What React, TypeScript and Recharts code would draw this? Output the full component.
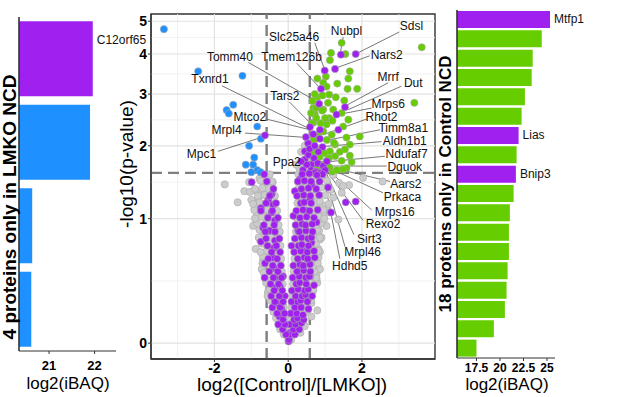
import React from 'react';
import {
  ScatterChart, Scatter, XAxis, YAxis, ReferenceLine, ReferenceArea,
  BarChart, Bar, Cell, LabelList,
} from 'recharts';

const FONT = '"Liberation Sans", Arial, Helvetica, sans-serif';
const PURPLE = '#A020F0';
const GREEN = '#66CD00';
const BLUE = '#1E90FF';
const GRAY = '#CCCCCC';
const AXIS = '#333333';

// ---------- left panel: proteins only in LMKO NCD ----------
const lmkoProteins = ['C12orf65', 'LMKO-2', 'LMKO-3', 'LMKO-4'];
const lmkoIbaq = [21.96, 21.9, 20.63, 20.61];
const lmkoMito = [true, false, false, false];
const lmkoShown = ['C12orf65'];
const lmkoDomain: [number, number] = [20.34, 22.47];

// ---------- right panel: proteins only in Control NCD ----------
const ctrlProteins = [
  'Mtfp1', 'Ctrl-2', 'Ctrl-3', 'Ctrl-4', 'Ctrl-5', 'Ctrl-6', 'Lias', 'Ctrl-8', 'Bnip3',
  'Ctrl-10', 'Ctrl-11', 'Ctrl-12', 'Ctrl-13', 'Ctrl-14', 'Ctrl-15', 'Ctrl-16', 'Ctrl-17', 'Ctrl-18',
];
const ctrlIbaq = [
  25.32, 24.44, 23.48, 23.37, 22.65, 22.3, 21.98, 21.77, 21.69,
  21.45, 21.05, 20.95, 20.95, 20.81, 20.7, 20.52, 19.35, 17.5,
];
const ctrlMito = [
  true, false, false, false, false, false, true, false, true,
  false, false, false, false, false, false, false, false, false,
];
const ctrlShown = ['Mtfp1', 'Lias', 'Bnip3'];
const ctrlDomain: [number, number] = [15.43, 25.85];

// ---------- volcano: [log2 FC, -log10 p] ----------
const grayPoints: [number, number][] = [
  [-1.72, 1.42], [-1.37, 1.19], [-1.19, 1.33], [-1.06, 1.45], [-1.04, 1.32], [-0.86, 1.33], [-0.81, 1.23],
  [-0.68, 1.29], [-0.86, 1.03], [-0.95, 0.92], [-0.77, 0.78], [-0.88, 0.69], [-0.68, 0.59], [-0.72, 0.51],
  [-0.63, 0.65], [-0.59, 1.09], [-0.5, 0.82], [-0.31, 0.88], [-0.27, 0.78], [-0.22, 0.59], [-0.36, 0.4],
  [-0.22, 0.33], [-0.14, 0.23], [-0.04, 0.14], [0.0, 0.02],
  [-0.75, 1.15], [-0.65, 1.4], [-0.55, 1.35], [-0.92, 1.1], [-0.6, 0.95], [-0.7, 0.86], [-0.45, 0.92],
  [-0.58, 0.72], [-0.4, 0.65], [-0.62, 0.47], [-0.5, 0.42], [-0.45, 0.55], [-0.3, 0.5], [-0.55, 0.33],
  [-0.4, 0.3], [-0.33, 0.22], [-0.25, 0.18], [-0.18, 0.12], [-0.1, 0.08], [-0.28, 0.42], [-0.35, 1.02],
  [-0.42, 1.45], [-0.78, 1.5], [-1.0, 1.22], [-0.52, 1.18], [-0.48, 0.7],
  [-0.12, 0.05], [-0.05, 0.08], [-0.22, 0.08], [-0.18, 0.11], [-0.07, 0.14], [-0.24, 0.14], [-0.33, 0.15],
  [-0.2, 0.18], [-0.4, 0.19], [-0.12, 0.22], [-0.33, 0.23], [-0.25, 0.26], [-0.48, 0.27], [-0.13, 0.3],
  [-0.35, 0.31], [-0.56, 0.3], [-0.27, 0.34], [-0.5, 0.35], [-0.15, 0.39], [-0.37, 0.38], [-0.6, 0.4],
  [-0.29, 0.44], [-0.52, 0.45], [-0.17, 0.49], [-0.39, 0.5], [-0.66, 0.48], [-0.31, 0.54], [-0.55, 0.55],
  [-0.7, 0.56], [-0.19, 0.6], [-0.42, 0.61], [-0.68, 0.62], [-0.33, 0.66], [-0.58, 0.67], [-0.75, 0.66],
  [-0.21, 0.72], [-0.44, 0.73], [-0.72, 0.74], [-0.35, 0.79], [-0.47, 0.8], [-0.8, 0.8], [-0.23, 0.86],
  [-0.49, 0.87], [-0.78, 0.88], [-0.26, 0.93], [-0.52, 0.94], [-0.85, 0.95], [-0.4, 1.01], [-0.72, 1.02],
  [-0.9, 1.0], [-0.3, 1.09], [-0.57, 1.1], [-0.46, 1.18], [-0.78, 1.19], [-0.95, 1.17], [-0.36, 1.27],
  [-0.64, 1.28], [-0.82, 1.27], [-0.54, 1.36], [-0.7, 1.37], [-0.9, 1.36], [-0.44, 1.46], [-0.75, 1.47],
  [-0.5, 1.56],
  [2.03, 1.51], [2.56, 1.46], [1.65, 1.41], [1.38, 1.44], [1.36, 0.99], [1.04, 1.11], [0.9, 0.96],
  [0.84, 0.87], [0.86, 0.78], [0.82, 0.69], [0.77, 0.59], [0.82, 0.52], [0.79, 0.4], [0.79, 0.2],
  [0.68, 0.34], [0.63, 0.25], [1.49, 1.4], [1.22, 1.55], [1.22, 1.25], [1.45, 1.31], [1.04, 0.92],
  [0.98, 1.07], [0.68, 0.82], [0.86, 0.66], [0.77, 0.47], [0.63, 0.16], [0.45, 0.1], [0.33, 0.06],
  [0.93, 1.15], [1.13, 1.07], [0.9, 0.8], [0.82, 0.61], [0.86, 0.51], [0.77, 0.43],
  [0.08, 0.02], [0.12, 0.05], [0.06, 0.08], [0.22, 0.08], [0.12, 0.11], [0.28, 0.11], [0.08, 0.14],
  [0.33, 0.14], [0.15, 0.18], [0.31, 0.18], [0.5, 0.19], [0.1, 0.22], [0.27, 0.22], [0.44, 0.23],
  [0.17, 0.26], [0.43, 0.26], [0.62, 0.27], [0.12, 0.3], [0.29, 0.3], [0.56, 0.31], [0.19, 0.34],
  [0.36, 0.34], [0.68, 0.35], [0.13, 0.39], [0.4, 0.39], [0.58, 0.4], [0.21, 0.44], [0.39, 0.44],
  [0.66, 0.45], [0.76, 0.44], [0.15, 0.49], [0.33, 0.49], [0.51, 0.5], [0.71, 0.49], [0.23, 0.54],
  [0.5, 0.55], [0.68, 0.54], [0.8, 0.56], [0.17, 0.6], [0.35, 0.61], [0.62, 0.6], [0.25, 0.66],
  [0.43, 0.67], [0.61, 0.66], [0.82, 0.67], [0.19, 0.72], [0.46, 0.73], [0.64, 0.72], [0.75, 0.74],
  [0.27, 0.79], [0.45, 0.8], [0.74, 0.79], [0.86, 0.8], [0.21, 0.86], [0.39, 0.87], [0.57, 0.86],
  [0.78, 0.88], [0.29, 0.93], [0.56, 0.94], [0.76, 0.93], [0.9, 0.95], [0.23, 1.01], [0.41, 1.02],
  [0.6, 1.01], [0.82, 1.03], [0.98, 1.0], [0.31, 1.09], [0.49, 1.1], [0.68, 1.09], [0.95, 1.1],
  [0.25, 1.18], [0.52, 1.19], [0.73, 1.18], [0.86, 1.2], [1.1, 1.17], [0.33, 1.27], [0.51, 1.28],
  [0.7, 1.27], [1.0, 1.28], [0.27, 1.36], [0.45, 1.37], [0.65, 1.36], [0.9, 1.38], [1.15, 1.35],
  [0.35, 1.46], [0.53, 1.47], [0.72, 1.46], [1.05, 1.47], [0.28, 1.56], [0.48, 1.57], [0.66, 1.55],
  [0.95, 1.56],
  [0.3, 1.65], [0.4, 1.72], [0.5, 1.8], [0.35, 1.9], [0.45, 2.0], [0.52, 2.12], [0.22, 1.7],
];

const bluePoints: [number, number][] = [
  [-3.37, 4.74], [-2.44, 3.54], [-1.24, 3.43], [-1.49, 2.77], [-1.67, 2.66], [-1.61, 2.59], [-0.84, 2.34],
  [-0.74, 2.12], [-1.06, 2.0], [-0.92, 1.81], [-1.15, 1.7], [-0.95, 1.7], [-0.84, 1.62], [-1.0, 1.59],
  [-0.75, 1.59],
];

const greenPoints: [number, number][] = [
  [1.45, 4.32], [3.62, 4.19], [1.16, 4.03], [1.55, 4.0], [1.13, 3.83], [1.67, 3.54], [1.63, 3.36],
  [0.79, 3.36], [1.02, 3.41], [0.95, 3.26], [1.33, 3.24], [1.04, 3.17], [1.61, 3.12], [1.87, 3.12],
  [0.79, 2.93], [0.93, 2.97], [1.11, 2.99], [1.29, 2.93], [1.52, 2.86], [3.42, 2.81], [1.08, 2.81],
  [0.68, 2.7], [0.95, 2.67], [1.22, 2.67], [1.45, 2.6], [0.72, 2.58], [1.11, 2.5], [1.63, 2.47],
  [0.68, 2.41], [1.04, 2.38], [1.49, 2.34], [1.94, 2.16], [1.18, 2.19], [1.58, 2.14], [0.68, 2.16],
  [1.27, 2.02], [1.67, 2.02], [1.13, 1.91], [1.54, 1.94], [1.67, 1.84], [1.27, 1.83], [1.04, 1.76],
  [1.45, 1.76], [1.58, 1.65], [1.72, 1.74], [1.48, 1.63], [1.2, 1.6],
  [0.62, 1.68], [0.7, 1.75], [0.78, 1.64], [0.9, 1.7], [1.12, 1.66], [0.66, 1.88], [0.74, 1.95],
  [0.85, 1.82], [0.98, 1.88], [1.1, 1.8], [0.62, 2.05], [0.7, 2.1], [0.8, 2.18], [0.95, 2.25],
  [1.05, 2.1], [0.64, 2.4], [0.76, 2.5], [0.88, 2.4], [0.62, 2.6], [0.75, 2.7], [0.92, 2.65],
  [0.66, 2.85], [0.72, 3.0], [1.0, 2.5], [1.2, 2.45], [1.24, 2.05], [1.4, 1.9], [1.32, 1.62],
];

const purplePoints: [number, number][] = [
  [1.43, 3.98], [1.83, 4.0], [1.27, 3.6], [0.99, 3.56], [0.89, 3.12], [0.84, 2.79], [1.54, 2.72],
  [1.31, 2.57], [0.59, 2.33], [0.86, 2.28], [1.36, 2.28], [0.86, 2.12], [0.54, 2.04], [0.93, 1.98],
  [0.45, 1.91], [0.45, 1.78], [0.63, 1.7], [-0.63, 2.18],
  [0.55, 1.85], [0.7, 1.8], [0.8, 1.72], [0.95, 1.68], [0.62, 1.62], [0.75, 1.6], [0.88, 1.58],
  [1.0, 1.62], [0.5, 1.7], [0.4, 1.62], [0.35, 1.75], [0.58, 1.95], [0.72, 2.0], [0.82, 1.9],
  [0.68, 2.2], [0.48, 2.15], [1.05, 1.75],
  [1.56, 1.19], [1.83, 1.2], [1.16, 1.07], [1.08, 1.38], [0.93, 1.56], [0.72, 1.58], [0.63, 1.42],
  [0.59, 1.22], [0.77, 0.96], [0.5, 1.09], [0.63, 0.75], [0.41, 0.67], [0.54, 0.59], [0.36, 0.51],
  [0.59, 0.45], [0.27, 0.4], [0.45, 0.34], [0.54, 0.28], [0.32, 0.23], [0.18, 0.17], [0.27, 0.12],
  [0.05, 0.06], [0.01, 0.01], [0.18, 1.33], [0.32, 1.49], [0.14, 1.03], [0.27, 0.87], [0.09, 0.72],
  [0.02, 0.02], [0.04, 0.05], [0.18, 0.05], [0.14, 0.08], [0.3, 0.08], [0.05, 0.11], [0.2, 0.11],
  [0.36, 0.12], [0.16, 0.14], [0.25, 0.15], [0.42, 0.14], [0.07, 0.18], [0.23, 0.18], [0.4, 0.17],
  [0.18, 0.22], [0.35, 0.22], [0.55, 0.21], [0.09, 0.26], [0.26, 0.26], [0.34, 0.27], [0.52, 0.26],
  [0.2, 0.3], [0.38, 0.3], [0.47, 0.31], [0.65, 0.3], [0.1, 0.34], [0.27, 0.35], [0.45, 0.34],
  [0.54, 0.35], [0.22, 0.39], [0.31, 0.4], [0.49, 0.39], [0.7, 0.38], [0.12, 0.44], [0.3, 0.45],
  [0.48, 0.44], [0.57, 0.45], [0.24, 0.49], [0.42, 0.5], [0.6, 0.49], [0.14, 0.54], [0.32, 0.55],
  [0.41, 0.54], [0.59, 0.55], [0.26, 0.6], [0.44, 0.61], [0.53, 0.6], [0.72, 0.61], [0.16, 0.66],
  [0.34, 0.67], [0.52, 0.66], [0.7, 0.67], [0.28, 0.72], [0.37, 0.73], [0.55, 0.72], [0.18, 0.79],
  [0.36, 0.8], [0.54, 0.79], [0.63, 0.8], [0.3, 0.86], [0.48, 0.87], [0.66, 0.86], [0.2, 0.93],
  [0.38, 0.94], [0.47, 0.93], [0.65, 0.94], [0.32, 1.01], [0.5, 1.02], [0.7, 1.01], [0.22, 1.09],
  [0.4, 1.1], [0.58, 1.09], [0.8, 1.1], [0.34, 1.18], [0.43, 1.19], [0.62, 1.18], [0.24, 1.27],
  [0.42, 1.28], [0.6, 1.27], [0.84, 1.28], [0.36, 1.36], [0.55, 1.37], [0.76, 1.36], [0.26, 1.46],
  [0.44, 1.47], [0.62, 1.46], [0.85, 1.46], [0.38, 1.56], [0.57, 1.57], [0.78, 1.55],
  [-0.99, 1.45], [-0.45, 1.29], [-0.54, 1.22], [-0.41, 1.16], [-0.45, 1.07], [-0.74, 1.12], [-0.36, 0.98],
  [-0.68, 0.9], [-0.51, 0.87], [-0.36, 0.77], [-0.74, 0.76], [-0.39, 0.7], [-0.41, 0.61], [-0.63, 0.56],
  [-0.39, 0.52], [-0.36, 0.44], [-0.14, 0.45], [-0.22, 0.37], [-0.36, 0.36], [-0.09, 0.3], [-0.31, 0.25],
  [-0.18, 0.21], [-0.24, 0.16], [-0.14, 0.1],
  [-0.06, 0.05], [-0.15, 0.08], [-0.09, 0.11], [-0.27, 0.11], [-0.14, 0.14], [-0.1, 0.18], [-0.3, 0.18],
  [-0.22, 0.22], [-0.43, 0.22], [-0.14, 0.26], [-0.36, 0.26], [-0.24, 0.3], [-0.46, 0.3], [-0.16, 0.34],
  [-0.38, 0.34], [-0.26, 0.39], [-0.48, 0.39], [-0.18, 0.44], [-0.4, 0.44], [-0.64, 0.44], [-0.28, 0.49],
  [-0.51, 0.49], [-0.2, 0.54], [-0.42, 0.54], [-0.3, 0.6], [-0.54, 0.6], [-0.22, 0.66], [-0.45, 0.66],
  [-0.32, 0.72], [-0.56, 0.72], [-0.24, 0.79], [-0.6, 0.79], [-0.36, 0.86], [-0.62, 0.86], [-0.38, 0.93],
  [-0.66, 0.93], [-0.28, 1.01], [-0.55, 1.01], [-0.43, 1.09], [-0.74, 1.09], [-0.33, 1.18], [-0.6, 1.18],
  [-0.5, 1.27], [-0.4, 1.36], [-0.58, 1.46], [-0.65, 1.56],
];

// gene labels: name, text (x, y), leader start (x, y), leader end (x, y) in data units
const geneLabels: [string, number, number, number, number, number, number][] = [
  ['Slc25a46', 0.16, 4.5, 0.72, 4.32, 0.99, 3.58],
  ['Tomm40', -1.58, 3.93, -1.08, 3.77, 0.64, 2.9],
  ['Tmem126b', 0.09, 3.93, 0.23, 3.75, 0.86, 3.14],
  ['Txnrd1', -2.12, 3.34, -1.8, 3.19, 0.54, 2.31],
  ['Tars2', -0.09, 2.95, 0.03, 2.83, 0.59, 2.41],
  ['Mtco2', -1.04, 2.52, -0.59, 2.48, 0.59, 2.28],
  ['Mrpl4', -1.67, 2.27, -1.17, 2.22, 0.53, 2.14],
  ['Mpc1', -2.35, 1.86, -1.9, 1.91, -0.79, 2.13],
  ['Ppa2', -0.04, 1.74, 0.27, 1.77, 0.53, 1.83],
  ['Nubpl', 1.58, 4.69, 1.49, 4.5, 1.42, 4.07],
  ['Sdsl', 3.34, 4.83, 3.01, 4.65, 1.85, 4.01],
  ['Nars2', 2.67, 3.98, 2.21, 3.95, 1.31, 3.63],
  ['Mrrf', 2.71, 3.4, 2.71, 3.26, 1.54, 2.74],
  ['Dut', 3.39, 3.26, 3.07, 3.18, 1.63, 2.67],
  ['Mrps6', 2.71, 2.79, 2.26, 2.7, 1.36, 2.57],
  ['Rhot2', 2.53, 2.52, 2.12, 2.48, 0.95, 2.19],
  ['Timm8a1', 3.12, 2.31, 2.49, 2.28, 0.95, 2.08],
  ['Aldh1b1', 3.16, 2.08, 2.53, 2.07, 0.99, 1.99],
  ['Ndufaf7', 3.21, 1.86, 2.62, 1.83, 0.99, 1.74],
  ['Dguok', 3.16, 1.66, 2.67, 1.68, 0.99, 1.68],
  ['Aars2', 3.19, 1.42, 2.76, 1.46, 1.22, 1.65],
  ['Prkaca', 3.1, 1.25, 2.57, 1.31, 1.18, 1.63],
  ['Mrps16', 2.89, 1.07, 2.26, 1.1, 1.13, 1.6],
  ['Rexo2', 2.57, 0.94, 2.03, 0.98, 1.08, 1.58],
  ['Sirt3', 2.2, 0.79, 1.78, 0.83, 1.04, 1.57],
  ['Mrpl46', 2.02, 0.66, 1.54, 0.71, 0.99, 1.56],
  ['Hdhd5', 1.67, 0.54, 1.4, 0.6, 0.95, 1.56],
];

const yTickValues = [0, 1, 2, 3, 4, 5];
const xTickValues = [-2, 0, 2];
const xMinorGrid = [-3, -1, 1, 3];
const fcCutoff = 0.585;
const pCutoff = 1.58;

// y axis uses a log(1 + y) transform
const T = (v: number) => Math.log1p(v);
const toPts = (arr: [number, number][]) => arr.map(([x, y]) => ({ x, t: T(y) }));

const xDomain: [number, number] = [-3.72, 3.98];
const tDomain: [number, number] = [-0.088, 1.832];

const dot = (fill: string) => (p: any) => (
  <circle cx={p.cx} cy={p.cy} r={3.6} fill={fill} stroke="#a9a9a9" strokeWidth={0.6} />
);

const tickStyle = (size: number) => ({ fontSize: size, fontWeight: 700, fill: '#000', fontFamily: FONT });

const lmkoData = lmkoProteins.map((name, i) => ({
  name, ibaq: lmkoIbaq[i], mito: lmkoMito[i], label: lmkoShown.includes(name) ? name : '',
}));
const ctrlData = ctrlProteins.map((name, i) => ({
  name, ibaq: ctrlIbaq[i], mito: ctrlMito[i], label: ctrlShown.includes(name) ? name : '',
}));

const yTicksT = yTickValues.map(T);
const yMinorT = yTicksT.slice(0, -1).map((t, i) => (t + yTicksT[i + 1]) / 2);

const labelPts = geneLabels.map(([gene, tx, ty]) => ({ x: tx, t: T(ty), gene }));

const barLabel = (dy: number) => (props: any) => {
  const { x, y, width, height, value } = props;
  if (!value) return null;
  return (
    <text x={x + width + 4} y={y + height / 2 + dy} dominantBaseline="central" fontSize={12}
      fontFamily={FONT} fill="#111">{value}</text>
  );
};

const Title = (props: { x: number; y: number; size: number; bold?: boolean; rotate?: boolean; text: string }) => (
  <text x={props.x} y={props.y} transform={props.rotate ? `rotate(-90 ${props.x} ${props.y})` : undefined}
    textAnchor="middle" fontSize={props.size} fontWeight={props.bold ? 700 : 400}
    fontFamily={FONT} fill="#000">{props.text}</text>
);

export default function App() {
  return (
    <div style={{ position: 'absolute', left: 0, top: 0, width: 630, height: 397, background: '#fff', fontFamily: FONT }}>
      {/* left panel */}
      <div style={{ position: 'absolute', left: 0, top: 0 }}>
        <BarChart width={630} height={397} data={lmkoData} layout="vertical"
          margin={{ top: 17, right: 514, bottom: 16, left: 9 }} barCategoryGap="5%">
          <XAxis type="number" dataKey="ibaq" domain={lmkoDomain} allowDataOverflow ticks={[21, 22]}
            interval={0} height={30} tickSize={3} tickMargin={7} tick={tickStyle(13)}
            axisLine={{ stroke: AXIS }} tickLine={{ stroke: AXIS }}
            label={{ content: () => <Title x={68} y={389} size={17} text="log2(iBAQ)" /> }} />
          <YAxis type="category" dataKey="name" width={10} tick={false} tickSize={3}
            axisLine={{ stroke: AXIS }} tickLine={{ stroke: AXIS }}
            label={{ content: () => <Title x={16} y={207} size={19} bold rotate text="4 proteins only in LMKO NCD" /> }} />
          <Bar dataKey="ibaq" isAnimationActive={false}>
            {lmkoData.map((d) => <Cell key={d.name} fill={d.mito ? PURPLE : BLUE} />)}
            <LabelList dataKey="label" content={barLabel(-19)} />
          </Bar>
          <ReferenceLine x={lmkoDomain[0]} stroke={AXIS} strokeWidth={1.2} ifOverflow="visible" />
        </BarChart>
      </div>

      {/* volcano */}
      <div style={{ position: 'absolute', left: 0, top: 0 }}>
        <ScatterChart width={630} height={397} margin={{ top: 14, right: 195, bottom: 8, left: 121 }}>
          <XAxis type="number" dataKey="x" domain={xDomain} allowDataOverflow ticks={xTickValues}
            interval={0} height={30} tickSize={3} tickMargin={1} tick={tickStyle(14)}
            axisLine={{ stroke: AXIS, strokeWidth: 1.3 }} tickLine={{ stroke: AXIS }}
            label={{ content: () => <Title x={292} y={391} size={19} text="log2([Control]/[LMKO])" /> }} />
          <YAxis type="number" dataKey="t" domain={tDomain} allowDataOverflow ticks={yTicksT}
            interval={0} width={30} tickSize={3} tickMargin={1} tick={tickStyle(14)}
            tickFormatter={(v: number) => String(Math.round(Math.expm1(v)))}
            axisLine={{ stroke: AXIS, strokeWidth: 1.3 }} tickLine={{ stroke: AXIS }}
            label={{ content: () => <Title x={133} y={164} size={19} rotate text="-log10(p-value)" /> }} />
          {xMinorGrid.map((v) => (
            <ReferenceLine key={'xm' + v} x={v} stroke="#efefef" strokeWidth={0.9} />
          ))}
          {yMinorT.map((v, i) => (
            <ReferenceLine key={'ym' + i} y={v} stroke="#efefef" strokeWidth={0.9} />
          ))}
          {xTickValues.map((v) => (
            <ReferenceLine key={'xg' + v} x={v} stroke="#e2e2e2" strokeWidth={1.2} />
          ))}
          {yTicksT.map((v, i) => (
            <ReferenceLine key={'yg' + i} y={v} stroke="#e2e2e2" strokeWidth={1.2} />
          ))}
          <ReferenceLine x={-fcCutoff} stroke="#7f7f7f" strokeWidth={2.4} strokeDasharray="11 6" />
          <ReferenceLine x={fcCutoff} stroke="#7f7f7f" strokeWidth={2.4} strokeDasharray="11 6" />
          <ReferenceLine y={T(pCutoff)} stroke="#7f7f7f" strokeWidth={2.4} strokeDasharray="11 6" />
          <Scatter data={toPts(grayPoints)} shape={dot(GRAY)} isAnimationActive={false} />
          <Scatter data={toPts(bluePoints)} shape={dot(BLUE)} isAnimationActive={false} />
          <Scatter data={toPts(greenPoints)} shape={dot(GREEN)} isAnimationActive={false} />
          <Scatter data={toPts(purplePoints)} shape={dot(PURPLE)} isAnimationActive={false} />
          {geneLabels.map(([gene, , , sx, sy, ex, ey]) => (
            <ReferenceLine key={'seg' + gene} ifOverflow="visible"
              segment={[{ x: sx, y: T(sy) }, { x: ex, y: T(ey) }]} stroke="#555" strokeWidth={0.8} />
          ))}
          <Scatter data={labelPts} isAnimationActive={false}
            shape={(p: any) => (
              <text x={p.cx} y={p.cy} textAnchor="middle" dominantBaseline="central" fontSize={12}
                fontFamily={FONT} fill="#111">{p.payload.gene}</text>
            )} />
          <ReferenceArea x1={xDomain[0]} x2={xDomain[1]} y1={tDomain[0]} y2={tDomain[1]} ifOverflow="visible"
            fill="none" fillOpacity={0} stroke={AXIS} strokeWidth={1.4} />
        </ScatterChart>
      </div>

      {/* right panel */}
      <div style={{ position: 'absolute', left: 0, top: 0 }}>
        <BarChart width={630} height={397} data={ctrlData} layout="vertical"
          margin={{ top: 10, right: 75, bottom: 9, left: 447 }} barCategoryGap="5%">
          <XAxis type="number" dataKey="ibaq" domain={ctrlDomain} allowDataOverflow ticks={[17.5, 20, 22.5, 25]}
            interval={0} height={30} tickSize={3} tickMargin={2} tick={tickStyle(12)}
            axisLine={{ stroke: AXIS }} tickLine={{ stroke: AXIS }}
            label={{ content: () => <Title x={507} y={390} size={17} text="log2(iBAQ)" /> }} />
          <YAxis type="category" dataKey="name" width={10} tick={false} tickSize={3}
            axisLine={{ stroke: AXIS }} tickLine={{ stroke: AXIS }}
            label={{ content: () => <Title x={451} y={184} size={17} bold rotate text="18 proteins only in Control NCD" /> }} />
          <Bar dataKey="ibaq" isAnimationActive={false}>
            {ctrlData.map((d) => <Cell key={d.name} fill={d.mito ? PURPLE : GREEN} />)}
            <LabelList dataKey="label" content={barLabel(0)} />
          </Bar>
          <ReferenceLine x={ctrlDomain[0]} stroke={AXIS} strokeWidth={1.2} ifOverflow="visible" />
        </BarChart>
      </div>
    </div>
  );
}
